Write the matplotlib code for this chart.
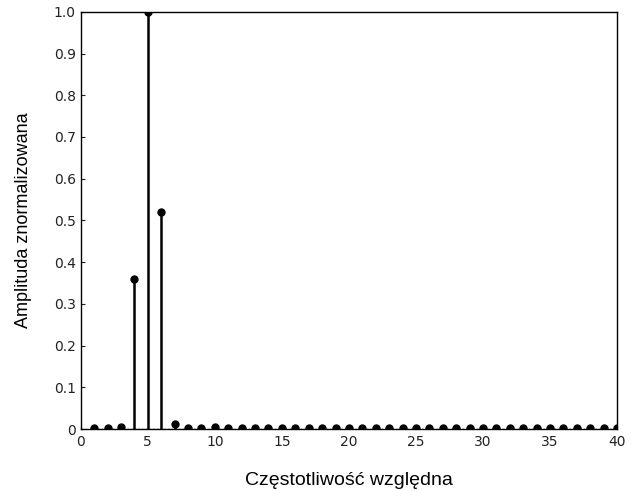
import matplotlib
matplotlib.use("Agg")
import matplotlib.pyplot as plt
import numpy as np

freq = list(range(1, 41))
amplitude = [0.002, 0.002, 0.004, 0.36, 1.0, 0.52, 0.012, 0.002, 0.002, 0.004,
             0.002, 0.002, 0.002, 0.002, 0.002, 0.002, 0.002, 0.002, 0.002, 0.002,
             0.002, 0.002, 0.002, 0.002, 0.002, 0.002, 0.002, 0.002, 0.002, 0.002,
             0.002, 0.002, 0.002, 0.002, 0.002, 0.002, 0.002, 0.002, 0.002, 0.002]
xticks = [0, 5, 10, 15, 20, 25, 30, 35, 40]
yticks = [0, 0.1, 0.2, 0.3, 0.4, 0.5, 0.6, 0.7, 0.8, 0.9, 1.0]
yticklabels = ["0", "0.1", "0.2", "0.3", "0.4", "0.5", "0.6", "0.7", "0.8", "0.9", "1.0"]

plt.rcParams['font.family'] = ['DejaVu Sans']
fig = plt.figure(figsize=(6.31, 4.91), dpi=100)
ax = fig.add_axes([0.128, 0.126, 0.85, 0.85])

ml, sl, bl = ax.stem(freq, amplitude, linefmt='k-', markerfmt='ko', basefmt='k:')
plt.setp(sl, linewidth=1.8)
plt.setp(ml, markersize=5)
plt.setp(bl, linewidth=1.0)

ax.set_xlim(0, 40)
ax.set_ylim(0, 1.0)
ax.set_xticks(xticks)
ax.set_yticks(yticks)
ax.set_yticklabels(yticklabels)
ax.tick_params(direction='in', length=3, width=0.8, labelsize=10, colors='#222222')
ax.tick_params(axis='x', pad=4)
for s in ax.spines.values():
    s.set_linewidth(1.0)
    s.set_color('black')

ax.set_xlabel("Częstotliwość względna", fontsize=14, labelpad=17,
              family=['Liberation Sans'])
ax.set_ylabel("Amplituda znormalizowana", fontsize=13, labelpad=16,
              family=['Liberation Sans'])

fig.savefig("out.png", dpi=100)
